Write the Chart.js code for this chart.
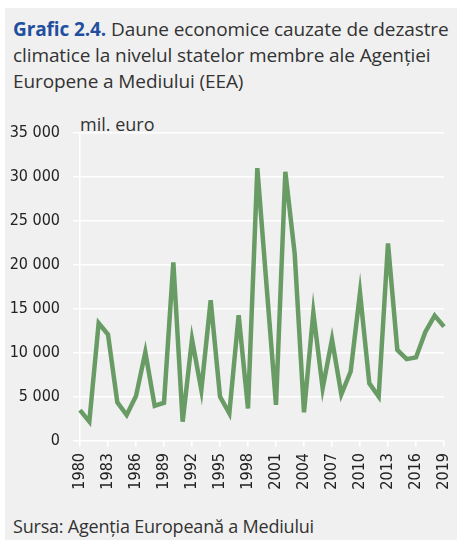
<!DOCTYPE html>
<html lang="ro">
<head>
  <meta charset="UTF-8">
  <title>Grafic 2.4</title>
  <script src="https://cdn.jsdelivr.net/npm/chart.js"></script>
  <style>
    html, body {
      margin: 0;
      padding: 0;
      background: #ffffff;
    }
    #panel {
      position: absolute;
      left: 5px;
      top: 8px;
      width: 452px;
      height: 532px;
      background: #f0f0f0;
    }
    #title {
      position: absolute;
      left: 8px;
      top: 8px;
      font-family: "Open Sans", sans-serif;
      font-size: 19px;
      line-height: 26px;
      color: #333333;
      letter-spacing: -0.1px;
      white-space: nowrap;
    }
    #title b {
      color: #1f4f9e;
    }
    #unit {
      position: absolute;
      left: 75px;
      top: 104px;
      font-family: "Open Sans", sans-serif;
      font-size: 18px;
      color: #333333;
    }
    #source {
      position: absolute;
      left: 8px;
      top: 506px;
      font-family: "Open Sans", sans-serif;
      font-size: 18px;
      color: #333333;
      letter-spacing: -0.2px;
    }
    #wrap {
      position: absolute;
      left: 0;
      top: 0;
      width: 457px;
      height: 540px;
    }
  </style>
</head>
<body>
  <div id="panel">
    <div id="title"><b>Grafic 2.4.</b> Daune economice cauzate de dezastre<br>climatice la nivelul statelor membre ale Agenției<br>Europene a Mediului (EEA)</div>
    <div id="unit">mil. euro</div>
    <div id="source">Sursa: Agenția Europeană a Mediului</div>
  </div>
  <div id="wrap"><canvas id="chart" width="457" height="540"></canvas></div>

  <script>
    const years = [];
    for (let y = 1980; y <= 2019; y++) years.push(String(y));

    // mil. euro
    const damages = [
      3500, 2200, 13400, 12100, 4400, 2950, 5100, 10100, 4000, 4350,
      20300, 2200, 11550, 5800, 16000, 5050, 3150, 14300, 3700, 31000,
      17500, 4100, 30600, 21300, 3250, 14600, 6000, 11550, 5300, 7900,
      16850, 6550, 5050, 22450, 10350, 9300, 9500, 12400, 14250, 13000
    ];

    const yTicks = [0, 5000, 10000, 15000, 20000, 25000, 30000, 35000];

    const fmt = v => String(v).replace(/\B(?=(\d{3})+(?!\d))/g, " ");
    const tickFont = { family: "'Liberation Sans Narrow', 'DejaVu Sans Condensed', sans-serif", size: 16 };

    new Chart(document.getElementById("chart").getContext("2d"), {
      type: "line",
      data: {
        labels: years,
        datasets: [{
          data: damages,
          borderColor: "#699b64",
          borderWidth: 4.5,
          pointRadius: 0,
          tension: 0,
          fill: false
        }]
      },
      options: {
        responsive: false,
        animation: false,
        layout: { padding: { top: 133, right: 13, bottom: 40, left: 0 } },
        plugins: { legend: { display: false }, tooltip: { enabled: false } },
        scales: {
          x: {
            offset: false,
            afterFit: s => { s.height = 59; s.paddingRight = 0; s.paddingLeft = 0; },
            grid: {
              drawOnChartArea: false,
              drawTicks: true,
              tickLength: 6,
              color: ctx => (ctx.index % 3 === 0 ? "#ffffff" : "rgba(0,0,0,0)"),
              lineWidth: 1.5
            },
            border: { display: false },
            ticks: {
              autoSkip: false,
              minRotation: 90,
              maxRotation: 90,
              padding: 6,
              color: "#222222",
              font: tickFont,
              callback: (v, i) => (i % 3 === 0 ? years[i] : "")
            }
          },
          y: {
            min: 0,
            max: 35000,
            afterFit: s => { s.width = 80; },
            afterBuildTicks: s => { s.ticks = yTicks.map(v => ({ value: v })); },
            grid: {
              color: "#ffffff",
              lineWidth: 1.5,
              tickLength: 7
            },
            border: { display: true, color: "#ffffff", width: 1.5 },
            ticks: {
              padding: 13,
              color: "#222222",
              font: tickFont,
              callback: v => fmt(v)
            }
          }
        }
      }
    });
  </script>
</body>
</html>
